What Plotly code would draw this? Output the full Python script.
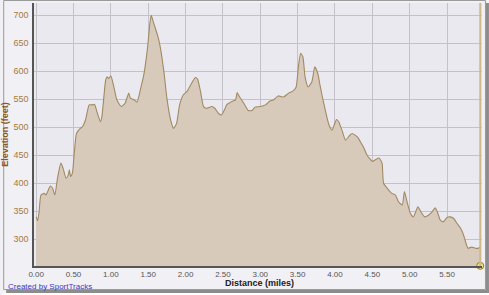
import plotly.graph_objects as go

distance_miles = [0.00, 0.02, 0.04, 0.064, 0.108, 0.13, 0.19, 0.22, 0.25, 0.286, 0.33, 0.36, 0.40, 0.43, 0.445,
                  0.46, 0.485, 0.51, 0.54, 0.59, 0.62, 0.66, 0.71, 0.75, 0.78, 0.82, 0.86, 0.88, 0.93, 0.95, 0.97,
                  1.00, 1.04, 1.08, 1.14, 1.19, 1.24, 1.26, 1.31, 1.35, 1.40, 1.44, 1.49, 1.52, 1.54, 1.58, 1.63,
                  1.66, 1.71, 1.75, 1.80, 1.84, 1.88, 1.92, 1.97, 2.02, 2.07, 2.13, 2.16, 2.20, 2.24, 2.28, 2.35,
                  2.39, 2.44, 2.48, 2.53, 2.55, 2.62, 2.67, 2.69, 2.72, 2.78, 2.84, 2.89, 2.93, 3.00, 3.07, 3.13,
                  3.18, 3.24, 3.31, 3.38, 3.44, 3.48, 3.51, 3.54, 3.57, 3.60, 3.64, 3.69, 3.73, 3.77, 3.80, 3.83,
                  3.88, 3.92, 3.96, 3.99, 4.02, 4.05, 4.10, 4.14, 4.20, 4.23, 4.30, 4.34, 4.39, 4.43, 4.50, 4.54,
                  4.59, 4.63, 4.65, 4.70, 4.76, 4.81, 4.85, 4.90, 4.93, 4.97, 5.01, 5.05, 5.11, 5.15, 5.20, 5.25,
                  5.30, 5.34, 5.37, 5.41, 5.45, 5.50, 5.54, 5.59, 5.63, 5.68, 5.72, 5.76, 5.78, 5.83, 5.88, 5.92,
                  5.945]
elevation_feet = [340, 333, 350, 379, 382, 379, 395, 391, 379, 409, 436, 427, 409, 415, 424,
                  412, 418, 454, 489, 498, 501, 513, 540, 540, 541, 525, 510, 519, 584, 590, 587,
                  592, 572, 549, 537, 543, 561, 552, 549, 545, 570, 593, 641, 683, 700, 683, 662,
                  644, 599, 552, 513, 498, 507, 540, 558, 564, 576, 589, 586, 564, 537, 534, 537,
                  534, 525, 522, 534, 540, 546, 549, 562, 555, 543, 530, 530, 536, 537, 540, 547,
                  549, 556, 554, 561, 565, 572, 608, 632, 626, 590, 572, 581, 608, 596, 575, 555,
                  525, 504, 495, 504, 514, 510, 492, 477, 486, 489, 483, 474, 462, 450, 439, 442,
                  445, 436, 400, 391, 382, 379, 367, 361, 385, 364, 346, 340, 358, 349, 340, 343,
                  349, 356, 349, 334, 331, 339, 340, 337, 329, 320, 308, 290, 284, 286, 284, 284,
                  287]

x_ticks = [0, 0.5, 1.0, 1.5, 2.0, 2.5, 3.0, 3.5, 4.0, 4.5, 5.0, 5.5]
x_tick_labels = ["0.00", "0.50", "1.00", "1.50", "2.00", "2.50", "3.00", "3.50", "4.00", "4.50", "5.00", "5.50"]
y_ticks = [300, 350, 400, 450, 500, 550, 600, 650, 700]
cursor_mile = 5.945

W, H = 489, 295
L, R, T, B = 31, 7, 3, 29
pw, ph = W - L - R, H - T - B


def px(x):
    return (x - L) / pw


def py(y):
    return (H - B - y) / ph


FONT = "Liberation Sans, Arial, sans-serif"

fig = go.Figure()
fig.add_trace(go.Scatter(
    x=distance_miles, y=elevation_feet, mode="lines",
    line=dict(color="#a08a62", width=1.1, shape="spline", smoothing=0.5),
    fill="tozeroy", fillcolor="#d8cabb", hoverinfo="skip", showlegend=False,
))
fig.add_trace(go.Scatter(
    x=[cursor_mile], y=[252.5], mode="markers",
    marker=dict(size=7, color="#f3e27a", line=dict(color="#8a7a40", width=1)),
    cliponaxis=False, showlegend=False, hoverinfo="skip",
))

fig.add_shape(type="line", xref="x", yref="paper", x0=cursor_mile, x1=cursor_mile, y0=0, y1=1,
              line=dict(color="#cdb98a", width=2))

fig.update_layout(
    width=W, height=H,
    margin=dict(l=L, r=R, t=T, b=B),
    paper_bgcolor="#f1f0f4", plot_bgcolor="#ebe9f0",
    xaxis=dict(range=[-0.029, 5.968], tickvals=x_ticks, ticktext=x_tick_labels,
               showgrid=True, gridcolor="#c5c1cb", gridwidth=1, zeroline=False,
               showline=True, linecolor="#555555", linewidth=1.5,
               ticks="", tickfont=dict(family=FONT, size=8, color="#555555"),
               ticklabelstandoff=0),
    yaxis=dict(range=[252.2, 722], tickvals=y_ticks,
               showgrid=True, gridcolor="#c5c1cb", gridwidth=1, zeroline=False,
               showline=True, linecolor="#555555", linewidth=1.5,
               ticks="", tickfont=dict(family=FONT, size=9, color="#a57a40"), ticklabelstandoff=2,
               title=dict(text="<b>Elevation (feet)</b>",
                          font=dict(family=FONT, size=9, color="#8a5a1e"),
                          standoff=4)),
    font=dict(family=FONT),
)

fig.add_annotation(text="<b>Distance (miles)</b>", xref="paper", yref="paper",
                   x=px(258), y=py(282.5), xanchor="center", yanchor="middle", showarrow=False,
                   font=dict(family=FONT, size=9, color="#222222"))
fig.add_annotation(text="Created by SportTracks", xref="paper", yref="paper",
                   x=px(3), y=py(286), xanchor="left", yanchor="middle", showarrow=False,
                   font=dict(family=FONT, size=8, color="#3b3bbf"))

# outer frame with shadow
fig.add_shape(type="rect", xref="paper", yref="paper", x0=px(0.5), x1=px(485.5), y0=py(0.5), y1=py(289.5),
              line=dict(color="#9a9a9a", width=1), layer="above")
fig.add_shape(type="rect", xref="paper", yref="paper", x0=px(486), x1=px(489), y0=py(3), y1=py(292),
              line=dict(width=0), fillcolor="#8c8c8c", layer="above")
fig.add_shape(type="rect", xref="paper", yref="paper", x0=px(3), x1=px(489), y0=py(290), y1=py(293),
              line=dict(width=0), fillcolor="#8c8c8c", layer="above")
fig.add_shape(type="rect", xref="paper", yref="paper", x0=px(0), x1=px(489), y0=py(293), y1=py(295),
              line=dict(width=0), fillcolor="#ffffff", layer="above")

fig.write_html("out.html")
